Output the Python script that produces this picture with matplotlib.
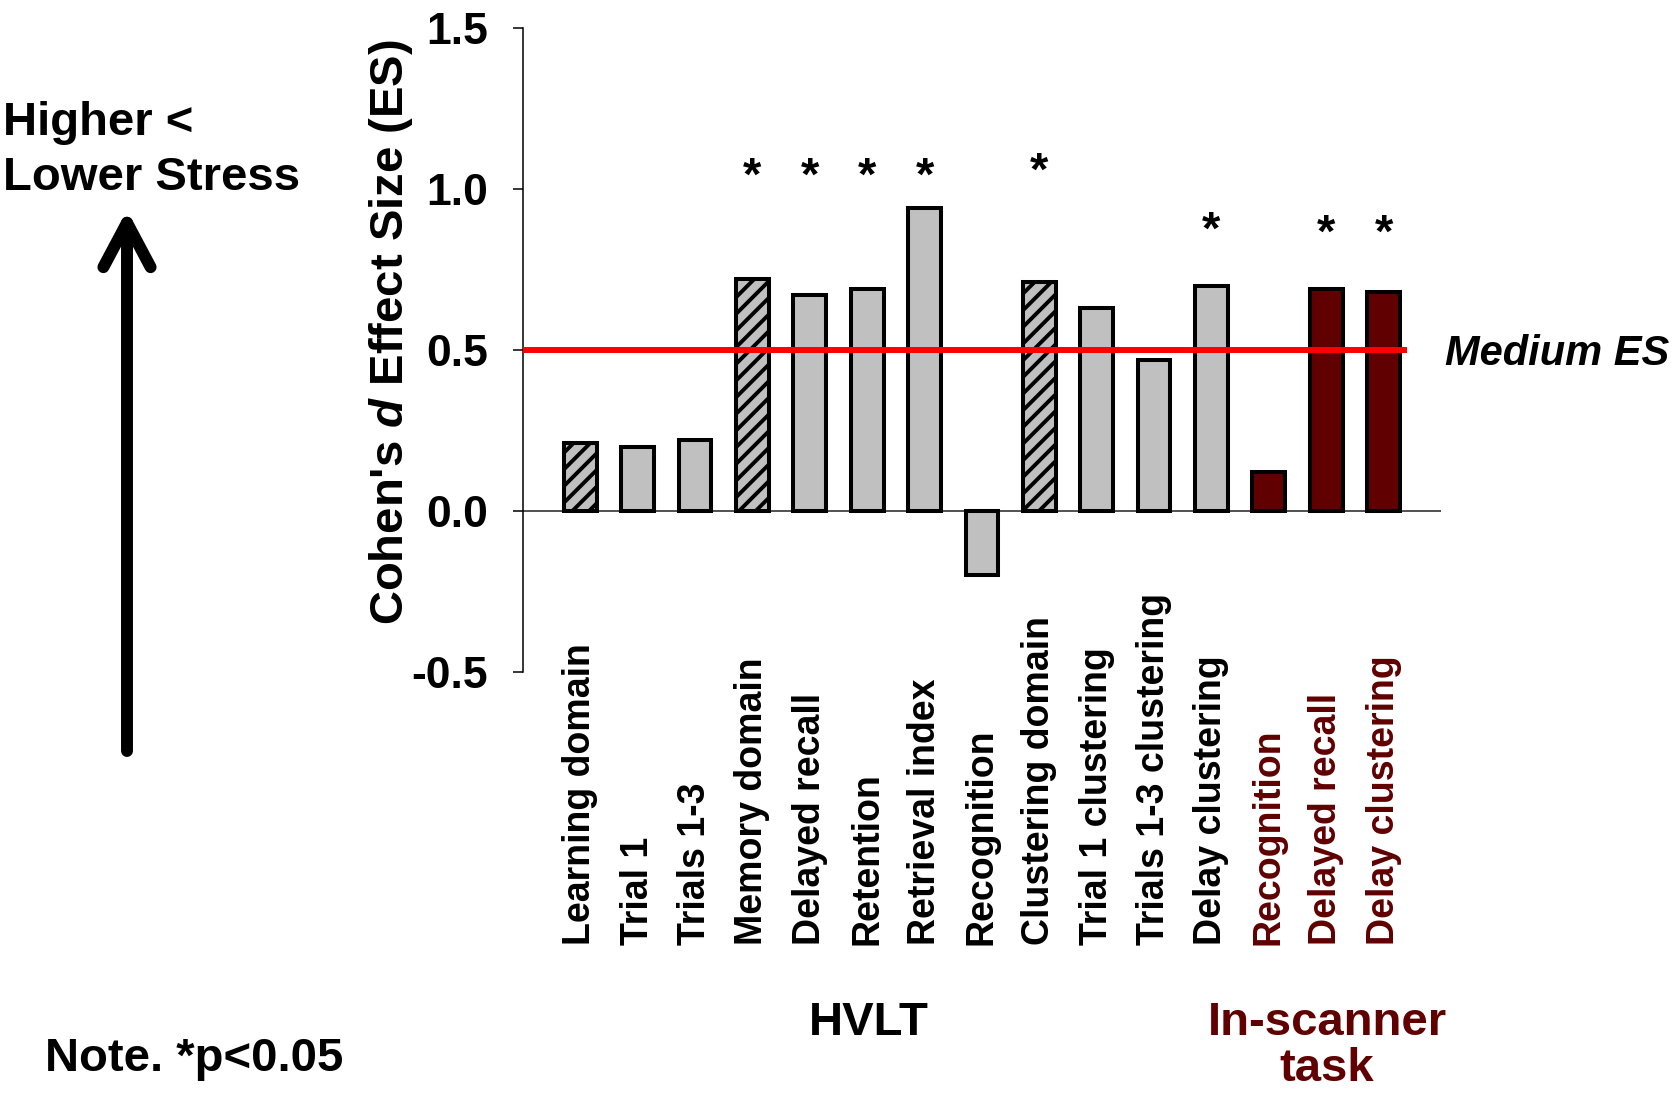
import numpy as np
import matplotlib
matplotlib.use('Agg')
import matplotlib.pyplot as plt
from matplotlib.patches import FancyArrowPatch
from matplotlib.transforms import blended_transform_factory

plt.rcParams['font.family'] = ['Liberation Sans', 'DejaVu Sans']
plt.rcParams['font.weight'] = 'bold'
plt.rcParams['mathtext.fontset'] = 'custom'
plt.rcParams['mathtext.it'] = 'Liberation Sans:italic:bold'
plt.rcParams['mathtext.rm'] = 'Liberation Sans:bold'
plt.rcParams['hatch.linewidth'] = 2.8

# effect sizes per measure (HVLT first, then in-scanner task)
measures = ['Learning domain', 'Trial 1', 'Trials 1-3', 'Memory domain', 'Delayed recall',
            'Retention', 'Retrieval index', 'Recognition', 'Clustering domain',
            'Trial 1 clustering', 'Trials 1-3 clustering', 'Delay clustering',
            'Recognition', 'Delayed recall', 'Delay clustering']
effect_size = [0.21, 0.20, 0.22, 0.72, 0.67, 0.69, 0.94, -0.20, 0.71, 0.63, 0.47, 0.70,
               0.12, 0.69, 0.68]
task = ['HVLT'] * 12 + ['In-scanner'] * 3
is_domain = [True, False, False, True, False, False, False, False, True, False, False, False,
             False, False, False]

# significance markers (bar index, height of the star)
star_idx = [3, 4, 5, 6, 8, 11, 13, 14]
star_y = [1.083, 1.083, 1.083, 1.083, 1.099, 0.914, 0.905, 0.905]

medium_es = 0.5
yticks = [-0.5, 0.0, 0.5, 1.0, 1.5]

gray = '#C0C0C0'
dark_red = '#600000'

fig = plt.figure(figsize=(16.8, 10.93), dpi=100)
ax = fig.add_axes([0.3113, 0.3852, 0.5464, 0.5892])

x = np.arange(len(measures))
fills = [gray if t == 'HVLT' else dark_red for t in task]
bars = ax.bar(x, effect_size, width=0.57, color=fills, edgecolor='black', linewidth=2.9, zorder=3)
for b, dom in zip(bars, is_domain):
    if dom:
        b.set_hatch('//')

ax.axhline(0, color='#333333', lw=1.2, zorder=2)
ax.hlines(medium_es, -1, 14.4, color='#FF0000', lw=4.3, zorder=4)

for i, y in zip(star_idx, star_y):
    ax.annotate('*', xy=(i, y), xytext=(0, -19.7), textcoords='offset points',
                ha='center', va='baseline', fontsize=34, fontweight='bold')

ax.set_xlim(-1, 15)
ax.set_ylim(-0.5, 1.5)
ax.set_yticks(yticks)
ax.set_yticklabels(['%.1f' % t for t in yticks])
ax.tick_params(axis='y', direction='out', length=7.2, width=1.1, pad=18, labelsize=32)
ax.set_xticks([])
for s in ['top', 'right', 'bottom']:
    ax.spines[s].set_visible(False)
ax.spines['left'].set_linewidth(1.1)

# measure names, rotated and aligned at their start
trans = blended_transform_factory(ax.transData, fig.transFigure)
for i, (name, t) in enumerate(zip(measures, task)):
    ax.text(i, 1 - 945 / 1093, name, transform=trans, rotation=90, ha='center', va='bottom',
            fontsize=27, fontweight='bold', color='black' if t == 'HVLT' else dark_red)

fig.text(391 / 1680, 0.696, r"Cohen's $\mathit{d}$ Effect Size (ES)", rotation=90,
         ha='center', va='center', fontsize=34, fontweight='bold')

fig.text(1445 / 1680, 1 - 365 / 1093, 'Medium ES', fontsize=30, fontweight='bold',
         style='italic', ha='left', va='baseline')

fig.text(869 / 1680, 1 - 1035 / 1093, 'HVLT', fontsize=34, fontweight='bold',
         ha='center', va='baseline')
fig.text(1327 / 1680, 1 - 1035 / 1093, 'In-scanner', fontsize=34, fontweight='bold',
         ha='center', va='baseline', color=dark_red)
fig.text(1327 / 1680, 1 - 1081 / 1093, 'task', fontsize=34, fontweight='bold',
         ha='center', va='baseline', color=dark_red)

fig.text(3 / 1680, 1 - 135 / 1093, 'Higher <', fontsize=34, fontweight='bold',
         ha='left', va='baseline')
fig.text(3 / 1680, 1 - 190 / 1093, 'Lower Stress', fontsize=34, fontweight='bold',
         ha='left', va='baseline')
fig.text(45 / 1680, 1 - 1071 / 1093, 'Note. *p<0.05', fontsize=34, fontweight='bold',
         ha='left', va='baseline')

arrow = FancyArrowPatch((127 / 1680, 1 - 751 / 1093), (127 / 1680, 1 - 210 / 1093),
                        transform=fig.transFigure, arrowstyle='->,head_length=32,head_width=17',
                        mutation_scale=1, lw=8.6, color='black', capstyle='round',
                        shrinkA=0, shrinkB=0)
fig.patches.append(arrow)

plt.savefig('out.png', dpi=100)
